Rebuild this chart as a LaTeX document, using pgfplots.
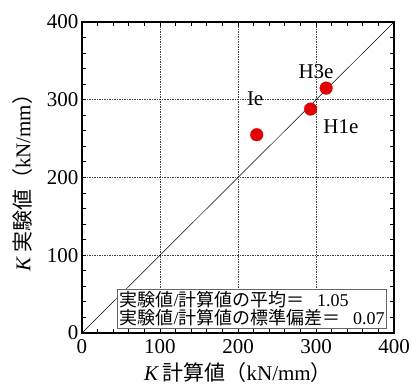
\documentclass[border=0pt]{standalone}
\usepackage{fontspec}
\setmainfont{Liberation Serif}
\newfontfamily\cjk{Noto Sans CJK JP}
\usepackage{pgfplots}
\pgfplotsset{compat=1.18}
\begin{document}
\begin{tikzpicture}
\begin{axis}[
  at={(0,0)}, anchor=south west,
  scale only axis,
  width=312pt, height=311pt,
  xmin=0, xmax=400, ymin=0, ymax=400,
  xtick={0,100,200,300,400}, ytick={0,100,200,300,400},
  minor tick num=4,
  tick align=inside,
  major tick length=4pt, minor tick length=4pt,
  tick style={black, line width=0.9pt},
  axis line style={line width=1.3pt},
  grid=major,
  major grid style={dash pattern=on 1.5pt off 1pt, black!75, line width=0.5pt},
  ticklabel style={font=\fontsize{21}{23}\selectfont},
  xticklabel style={yshift=-3pt},
  /pgf/number format/assume math mode=true,
  xlabel={\fontsize{21}{23}\selectfont\textit{K}\,{\cjk 計算値（}kN/mm{\cjk ）}},
  ylabel={\fontsize{21}{23}\selectfont\textit{K}\,{\cjk 実験値（}kN/mm{\cjk ）}},
  xlabel style={at={(axis description cs:0.5,0)}, anchor=north, yshift=-26pt},
  ylabel style={at={(axis description cs:0,0.5)}, anchor=south, xshift=0pt, yshift=46pt},
  clip=false,
]
\addplot[black, line width=0.5pt, no marks] coordinates {(0,0) (400,400)};
\addplot[only marks, mark=*, mark size=6.3pt, red!90!black, mark options={draw=red!90!black, fill=red!90!black}] coordinates {
(224,255) (293,288) (313,315)};
\node[font=\fontsize{21}{23}\selectfont] at (axis cs:222,301) {Ie};
\node[font=\fontsize{21}{23}\selectfont] at (axis cs:300,336) {H3e};
\node[font=\fontsize{21}{23}\selectfont] at (axis cs:332,266) {H1e};
\node[draw=gray!80!black, fill=white, line width=0.6pt, anchor=south east, align=left, inner sep=2pt,
  font=\fontsize{18}{18.5}\selectfont] at (axis cs:391,6) {{\cjk 実験値}/{\cjk 計算値の平均＝}\hspace{0.7em}1.05\\{\cjk 実験値}/{\cjk 計算値の標準偏差＝}\hspace{0.7em}0.07};
\end{axis}
\pgfresetboundingbox
\path[use as bounding box] (-82pt,-52pt) rectangle (330pt,333pt);
\end{tikzpicture}
\end{document}
